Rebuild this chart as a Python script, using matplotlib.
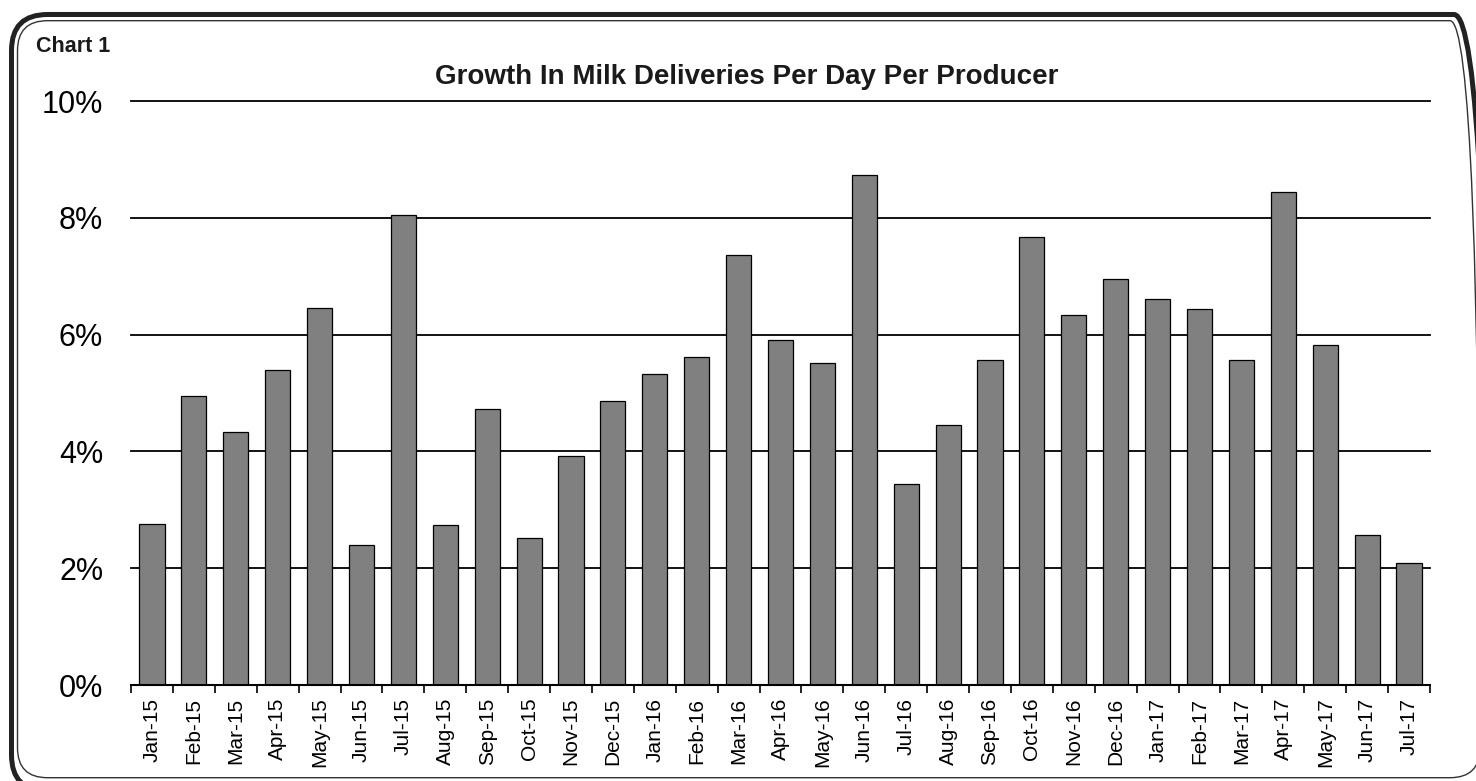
import matplotlib
matplotlib.use("Agg")
import matplotlib.pyplot as plt
from matplotlib.patches import FancyBboxPatch
import numpy as np

months = ["Jan-15", "Feb-15", "Mar-15", "Apr-15", "May-15", "Jun-15", "Jul-15",
          "Aug-15", "Sep-15", "Oct-15", "Nov-15", "Dec-15", "Jan-16", "Feb-16",
          "Mar-16", "Apr-16", "May-16", "Jun-16", "Jul-16", "Aug-16", "Sep-16",
          "Oct-16", "Nov-16", "Dec-16", "Jan-17", "Feb-17", "Mar-17", "Apr-17",
          "May-17", "Jun-17", "Jul-17"]
growth_pct = [2.76, 4.95, 4.33, 5.40, 6.46, 2.39, 8.04, 2.74, 4.72, 2.52, 3.92,
              4.86, 5.33, 5.62, 7.37, 5.91, 5.51, 8.74, 3.45, 4.45, 5.57, 7.67,
              6.34, 6.95, 6.61, 6.44, 5.57, 8.45, 5.83, 2.56, 2.09]
y_ticks = [0, 2, 4, 6, 8, 10]
y_tick_labels = ["0%", "2%", "4%", "6%", "8%", "10%"]
title = "Growth In Milk Deliveries Per Day Per Producer"
corner_label = "Chart 1"

plt.rcParams['font.family'] = ['Liberation Sans', 'DejaVu Sans']

W, H = 1476, 781
fig = plt.figure(figsize=((W + 0.01) / 100, (H + 0.01) / 100), dpi=100)
fig.patch.set_facecolor("white")

# background axes in pixel units for the rounded double frame
bg = fig.add_axes([0, 0, 1, 1], zorder=0)
bg.set_xlim(0, W)
bg.set_ylim(0, H)
bg.axis("off")
outer = FancyBboxPatch((11.5, -10), 1490 - 11.5, (H - 14.5) + 10,
                       boxstyle="round,pad=0,rounding_size=36",
                       facecolor="none", edgecolor="#222222", linewidth=3.6)
inner = FancyBboxPatch((17.5, 3.3), 1480 - 17.5, (H - 20.7) - 3.3,
                       boxstyle="round,pad=0,rounding_size=30",
                       facecolor="none", edgecolor="#333333", linewidth=1.0)
bg.add_patch(outer)
bg.add_patch(inner)

ax = fig.add_axes([131 / W, 1 - 685 / H, (1430 - 131) / W, (685 - 101) / H],
                  zorder=1)
ax.patch.set_alpha(0)
x = np.arange(len(months))
ax.bar(x, growth_pct, width=0.6, color="#808080", edgecolor="black",
       linewidth=0.9, zorder=3)

ax.set_xlim(-0.5, len(months) - 0.5)
ax.set_ylim(0, 10)
ax.set_yticks(y_ticks)
ax.set_yticklabels(y_tick_labels, fontsize=22)
ax.tick_params(axis="y", length=0, pad=20)
ax.yaxis.grid(True, color="black", linewidth=1.3, zorder=1)
ax.set_axisbelow(True)
for gl in ax.get_ygridlines():
    gl.set_clip_on(False)

ax.set_xticks(x)
ax.set_xticklabels(months, rotation=90, fontsize=15)
ax.tick_params(axis="x", which="major", length=0, pad=9)
ax.set_xticks(np.arange(len(months) + 1) - 0.5, minor=True)
ax.tick_params(axis="x", which="minor", length=5.5, width=1.2, color="black",
               direction="out")

for s in ["left", "right", "top"]:
    ax.spines[s].set_visible(False)
ax.spines["bottom"].set_linewidth(1.5)
ax.spines["bottom"].set_color("black")
ax.spines["bottom"].set_zorder(4)

fig.text(747 / W, 1 - 84 / H, title, ha="center", va="baseline",
         fontsize=20, fontweight="bold", color="#1a1a1a")
fig.text(36 / W, 1 - 52 / H, corner_label, ha="left", va="baseline",
         fontsize=15.5, fontweight="bold", color="#1a1a1a")

fig.savefig("out.png", dpi=100)
